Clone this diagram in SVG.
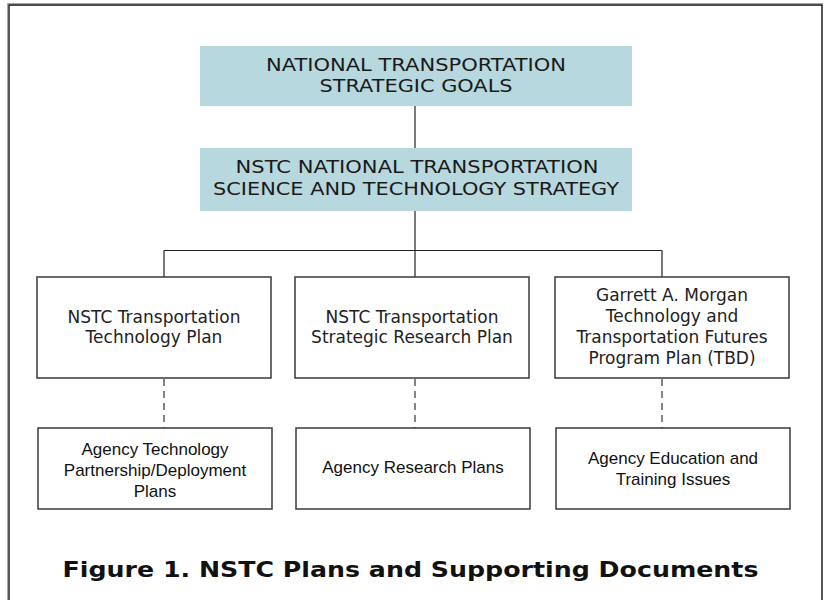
<svg xmlns="http://www.w3.org/2000/svg" width="825" height="600" viewBox="0 0 825 600">
  <style>
    .goal { fill: #b7d8de; stroke: none; }
    .plan { fill: #ffffff; stroke: #3a3a3a; stroke-width: 1.5; }
    .t-top { font-family: "DejaVu Sans", Verdana, sans-serif; font-size: 18.4px; fill: #1a1a1a; text-anchor: middle; }
    .t-mid { font-family: "DejaVu Sans", Verdana, sans-serif; font-size: 17px; fill: #222; text-anchor: middle; }
    .t-bot { font-family: "Liberation Sans", Arial, sans-serif; font-size: 17px; fill: #111; text-anchor: middle; }
    .caption { font-family: "DejaVu Sans", Verdana, sans-serif; font-size: 21px; font-weight: bold; fill: #111; text-anchor: middle; }
    .solid { fill: none; stroke: #222; stroke-width: 1.2; }
    .dashed { fill: none; stroke: #333; stroke-width: 1.2; stroke-dasharray: 7 5; }
  </style>
  <rect x="0" y="0" width="825" height="600" fill="#ffffff"/>
  <g id="frame">
    <path d="M7.5,600 V3.5 H823" fill="none" stroke="#a8a8a8" stroke-width="1"/>
    <path d="M9,600 V5 H822 V600" fill="none" stroke="#111" stroke-width="1.4"/>
  </g>

  <g id="connectors">
    <path class="solid" d="M415,106 V148"/>
    <path class="solid" d="M415,211 V250.5"/>
    <path class="solid" d="M164,250.5 H662"/>
    <path class="solid" d="M164,250.5 V277"/>
    <path class="solid" d="M415,250.5 V277"/>
    <path class="solid" d="M662,250.5 V277"/>
    <path class="dashed" d="M164,379 V428"/>
    <path class="dashed" d="M415,379 V428"/>
    <path class="dashed" d="M662,379 V428"/>
  </g>

  <g id="node-goals">
    <rect class="goal" x="200" y="46" width="432" height="60"/>
    <text class="t-top" x="416" y="70.5" textLength="300" lengthAdjust="spacingAndGlyphs">NATIONAL TRANSPORTATION</text>
    <text class="t-top" x="416" y="92" textLength="193" lengthAdjust="spacingAndGlyphs">STRATEGIC GOALS</text>
  </g>

  <g id="node-strategy">
    <rect class="goal" x="200" y="148" width="432" height="63"/>
    <text class="t-top" x="417" y="173" textLength="363" lengthAdjust="spacingAndGlyphs">NSTC NATIONAL TRANSPORTATION</text>
    <text class="t-top" x="416" y="194.5" textLength="406" lengthAdjust="spacingAndGlyphs">SCIENCE AND TECHNOLOGY STRATEGY</text>
  </g>

  <g id="node-tech-plan">
    <rect class="plan" x="37" y="277" width="234" height="101"/>
    <text class="t-mid" x="154" y="323">NSTC Transportation</text>
    <text class="t-mid" x="154" y="343">Technology Plan</text>
  </g>

  <g id="node-research-plan">
    <rect class="plan" x="295" y="277" width="234" height="101"/>
    <text class="t-mid" x="412" y="323">NSTC Transportation</text>
    <text class="t-mid" x="412" y="343">Strategic Research Plan</text>
  </g>

  <g id="node-morgan-plan">
    <rect class="plan" x="555" y="277" width="234" height="101"/>
    <text class="t-mid" x="672" y="301">Garrett A. Morgan</text>
    <text class="t-mid" x="672" y="322">Technology and</text>
    <text class="t-mid" x="672" y="343">Transportation Futures</text>
    <text class="t-mid" x="672" y="364">Program Plan (TBD)</text>
  </g>

  <g id="node-agency-tech">
    <rect class="plan" x="38" y="428" width="234" height="81"/>
    <text class="t-bot" x="155" y="455">Agency Technology</text>
    <text class="t-bot" x="155" y="476">Partnership/Deployment</text>
    <text class="t-bot" x="155" y="497">Plans</text>
  </g>

  <g id="node-agency-research">
    <rect class="plan" x="296" y="428" width="234" height="81"/>
    <text class="t-bot" x="413" y="473">Agency Research Plans</text>
  </g>

  <g id="node-agency-education">
    <rect class="plan" x="556" y="428" width="234" height="81"/>
    <text class="t-bot" x="673" y="464">Agency Education and</text>
    <text class="t-bot" x="673" y="485">Training Issues</text>
  </g>

  <g id="caption">
    <text class="caption" x="410.5" y="577" textLength="696" lengthAdjust="spacingAndGlyphs">Figure 1. NSTC Plans and Supporting Documents</text>
  </g>
</svg>
